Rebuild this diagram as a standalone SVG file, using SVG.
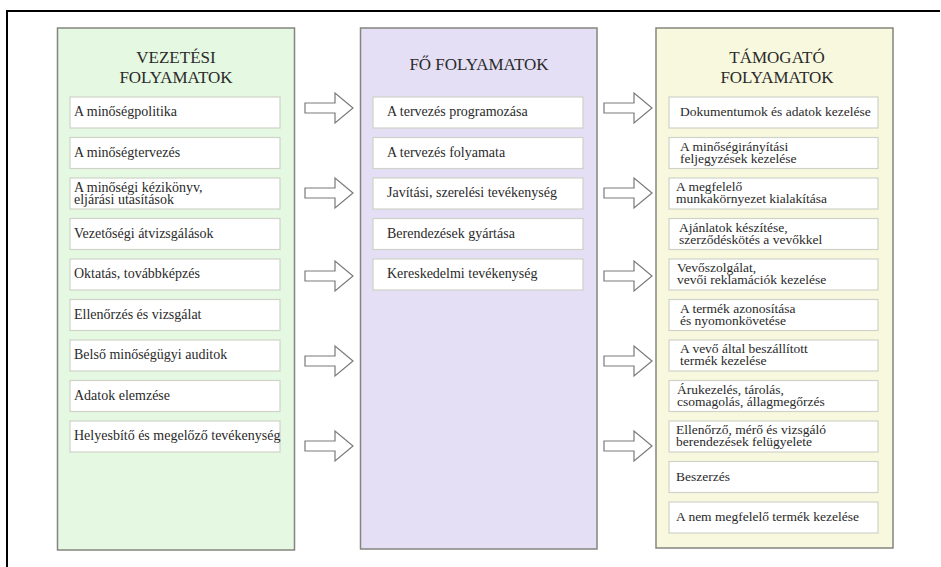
<svg xmlns="http://www.w3.org/2000/svg" width="941" height="567" viewBox="0 0 941 567">
  <style>
    .frame { stroke: #000; stroke-width: 2; fill: none; }
    .col { stroke: #85857d; stroke-width: 1.5; }
    .green { fill: #e5f8e1; }
    .purple { fill: #e4dff5; }
    .yellow { fill: #f8f8de; }
    .box { fill: #fff; stroke: #cfd2c8; stroke-width: 1.2; }
    .title { font-family: "Liberation Serif", "Times New Roman", serif; font-size: 17px; fill: #2a2a2a; text-anchor: middle; }
    .lbl { font-family: "Liberation Serif", "Times New Roman", serif; font-size: 14px; fill: #2a2a2a; }
    .sm { font-size: 13.5px; }
    .arrow { fill: #fff; stroke: #7a7a7a; stroke-width: 1.2; stroke-linejoin: miter; }
  </style>
  <defs>
    <!-- outlined block arrow, origin at tail centre, pointing right -->
    <path id="blockArrow" d="M0,-5 H30 V-15 L48,0 L30,15 V5 H0 Z"/>
  </defs>

  <rect width="941" height="567" fill="#fff"/>

  <!-- page frame (top and left rules) -->
  <path class="frame" d="M7,567 V11 H940"/>

  <!-- management processes -->
  <g id="vezetesi">
    <rect class="col green" x="57.5" y="28" width="237" height="522"/>
    <text class="title" x="176" y="63">VEZETÉSI</text>
    <text class="title" x="176" y="83">FOLYAMATOK</text>
    <g id="v1"><rect class="box" x="70" y="97" width="210" height="31"/><text class="lbl" x="74" y="116">A minőségpolitika</text></g>
    <g id="v2"><rect class="box" x="70" y="137.5" width="210" height="31"/><text class="lbl" x="74" y="156.5">A minőségtervezés</text></g>
    <g id="v3"><rect class="box" x="70" y="178" width="210" height="31"/><text class="lbl" x="74" y="192">A minőségi kézikönyv,</text><text class="lbl" x="74" y="204">eljárási utasítások</text></g>
    <g id="v4"><rect class="box" x="70" y="218.5" width="210" height="31"/><text class="lbl" x="74" y="237.5">Vezetőségi átvizsgálások</text></g>
    <g id="v5"><rect class="box" x="70" y="259" width="210" height="31"/><text class="lbl" x="74" y="278">Oktatás, továbbképzés</text></g>
    <g id="v6"><rect class="box" x="70" y="299.5" width="210" height="31"/><text class="lbl" x="74" y="318.5">Ellenőrzés és vizsgálat</text></g>
    <g id="v7"><rect class="box" x="70" y="340" width="210" height="31"/><text class="lbl" x="74" y="359">Belső minőségügyi auditok</text></g>
    <g id="v8"><rect class="box" x="70" y="380.5" width="210" height="31"/><text class="lbl" x="74" y="399.5">Adatok elemzése</text></g>
    <g id="v9"><rect class="box" x="70" y="421" width="210" height="31"/><text class="lbl" x="74" y="440">Helyesbítő és megelőző tevékenység</text></g>
  </g>

  <!-- core processes -->
  <g id="fo">
    <rect class="col purple" x="360.5" y="28" width="236.5" height="521"/>
    <text class="title" x="479" y="70">FŐ FOLYAMATOK</text>
    <g id="f1"><rect class="box" x="373" y="97" width="210" height="31"/><text class="lbl" x="387" y="116">A tervezés programozása</text></g>
    <g id="f2"><rect class="box" x="373" y="137.5" width="210" height="31"/><text class="lbl" x="387" y="156.5">A tervezés folyamata</text></g>
    <g id="f3"><rect class="box" x="373" y="178" width="210" height="31"/><text class="lbl" x="387" y="197">Javítási, szerelési tevékenység</text></g>
    <g id="f4"><rect class="box" x="373" y="218.5" width="210" height="31"/><text class="lbl" x="387" y="237.5">Berendezések gyártása</text></g>
    <g id="f5"><rect class="box" x="373" y="259" width="210" height="31"/><text class="lbl" x="387" y="278">Kereskedelmi tevékenység</text></g>
  </g>

  <!-- supporting processes -->
  <g id="tamogato">
    <rect class="col yellow" x="656" y="28" width="237" height="520"/>
    <text class="title" x="777" y="63">TÁMOGATÓ</text>
    <text class="title" x="777" y="83">FOLYAMATOK</text>
    <g id="t1"><rect class="box" x="669" y="97" width="209" height="31"/><text class="lbl sm" x="680" y="116">Dokumentumok és adatok kezelése</text></g>
    <g id="t2"><rect class="box" x="669" y="137.5" width="209" height="31"/><text class="lbl sm" x="680" y="150.5">A minőségirányítási</text><text class="lbl sm" x="680" y="162.5">feljegyzések kezelése</text></g>
    <g id="t3"><rect class="box" x="669" y="178" width="209" height="31"/><text class="lbl sm" x="676" y="191">A megfelelő</text><text class="lbl sm" x="676" y="203">munkakörnyezet kialakítása</text></g>
    <g id="t4"><rect class="box" x="669" y="218.5" width="209" height="31"/><text class="lbl sm" x="679" y="231.5">Ajánlatok készítése,</text><text class="lbl sm" x="679" y="243.5">szerződéskötés a vevőkkel</text></g>
    <g id="t5"><rect class="box" x="669" y="259" width="209" height="31"/><text class="lbl sm" x="677" y="272">Vevőszolgálat,</text><text class="lbl sm" x="677" y="284">vevői reklamációk kezelése</text></g>
    <g id="t6"><rect class="box" x="669" y="299.5" width="209" height="31"/><text class="lbl sm" x="680" y="312.5">A termék azonosítása</text><text class="lbl sm" x="680" y="324.5">és nyomonkövetése</text></g>
    <g id="t7"><rect class="box" x="669" y="340" width="209" height="31"/><text class="lbl sm" x="680" y="353">A vevő által beszállított</text><text class="lbl sm" x="680" y="365">termék kezelése</text></g>
    <g id="t8"><rect class="box" x="669" y="380.5" width="209" height="31"/><text class="lbl sm" x="677" y="393.5">Árukezelés, tárolás,</text><text class="lbl sm" x="677" y="405.5">csomagolás, állagmegőrzés</text></g>
    <g id="t9"><rect class="box" x="669" y="421" width="209" height="31"/><text class="lbl sm" x="676" y="434">Ellenőrző, mérő és vizsgáló</text><text class="lbl sm" x="676" y="446">berendezések felügyelete</text></g>
    <g id="t10"><rect class="box" x="669" y="461.5" width="209" height="31"/><text class="lbl sm" x="676" y="480.5">Beszerzés</text></g>
    <g id="t11"><rect class="box" x="669" y="502" width="209" height="31"/><text class="lbl sm" x="676" y="521">A nem megfelelő termék kezelése</text></g>
  </g>

  <!-- block arrows between the columns -->
  <g id="connectors">
    <use href="#blockArrow" class="arrow" x="305" y="108"/>
    <use href="#blockArrow" class="arrow" x="305" y="193"/>
    <use href="#blockArrow" class="arrow" x="305" y="276"/>
    <use href="#blockArrow" class="arrow" x="305" y="361"/>
    <use href="#blockArrow" class="arrow" x="305" y="446"/>
    <use href="#blockArrow" class="arrow" x="604" y="108"/>
    <use href="#blockArrow" class="arrow" x="604" y="193"/>
    <use href="#blockArrow" class="arrow" x="604" y="276"/>
    <use href="#blockArrow" class="arrow" x="604" y="361"/>
    <use href="#blockArrow" class="arrow" x="604" y="446"/>
  </g>
</svg>
